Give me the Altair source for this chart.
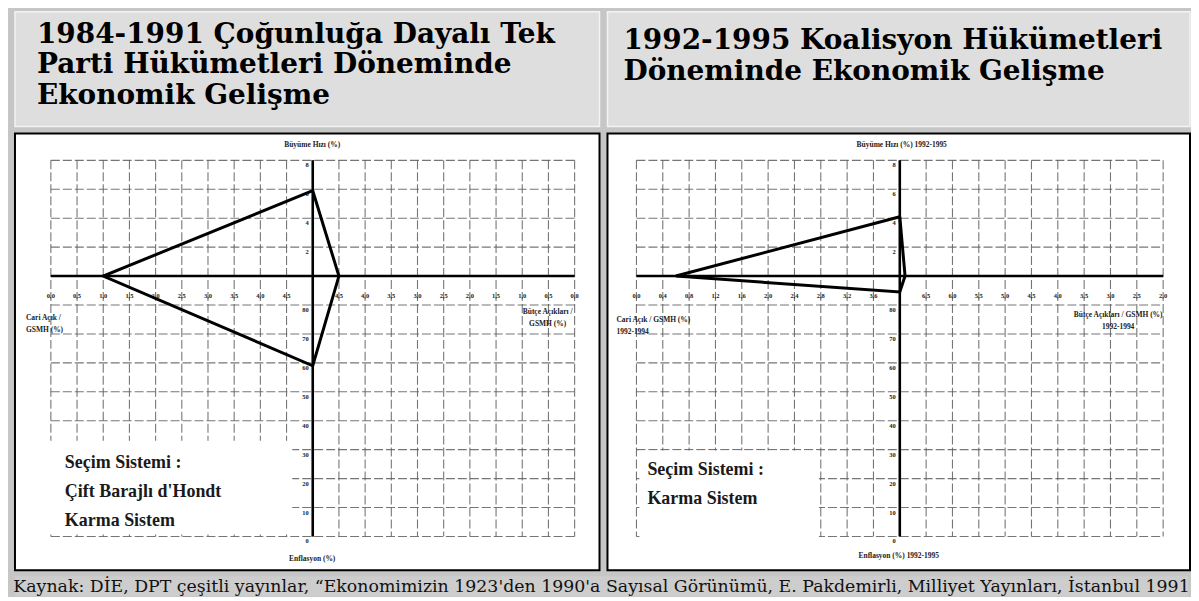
import altair as alt
import pandas as pd

SERIF = "DejaVu Serif"
TIMES = "Liberation Serif"

# ---------------- data ----------------
growth_ticks = [2, 4, 6, 8]                                   # Büyüme Hızı (%) – upward
inflation_ticks = [80, 70, 60, 50, 40, 30, 20, 10, 0]         # Enflasyon (%) – downward

ca_ticks_8491 = ["0,0", "0,5", "1,0", "1,5", "2,0", "2,5", "3,0", "3,5", "4,0", "4,5"]      # outer -> centre
budget_ticks_8491 = ["4,5", "4,0", "3,5", "3,0", "2,5", "2,0", "1,5", "1,0", "0,5", "0,0"]  # centre -> outer
ca_ticks_9295 = ["0,0", "0,4", "0,8", "1,2", "1,6", "2,0", "2,4", "2,8", "3,2", "3,6"]
budget_ticks_9295 = ["6,5", "6,0", "5,5", "5,0", "4,5", "4,0", "3,5", "3,0", "2,5", "2,0"]

# growth, budget deficit/GNP, inflation, current account deficit/GNP
values_8491 = [5.9, 4.5, 59.0, 1.0]
values_9295 = [4.1, 6.9, 84.5, 0.6]

title_8491 = ["1984-1991 Çoğunluğa Dayalı Tek", "Parti Hükümetleri Döneminde", "Ekonomik Gelişme"]
title_9295 = ["1992-1995 Koalisyon Hükümetleri", "Döneminde Ekonomik Gelişme"]
election_8491 = "Seçim Sistemi :\nÇift Barajlı d'Hondt\nKarma Sistem"
election_9295 = "Seçim Sistemi :\nKarma Sistem"
source = ("Kaynak: DİE, DPT çeşitli yayınlar, \u201cEkonomimizin 1923'den 1990'a Sayısal Görünümü, "
          "E. Pakdemirli, Milliyet Yayınları, İstanbul 1991")


def num(s):
    return float(s.replace(",", "."))


def polygon(vals, ca_ticks, budget_ticks):
    g_step = growth_ticks[1] - growth_ticks[0]
    i_step = inflation_ticks[0] - inflation_ticks[1]
    i_centre = inflation_ticks[0] + i_step
    b = [num(t) for t in budget_ticks]
    b_step = b[0] - b[1]
    b_centre = b[0] + b_step
    c = [num(t) for t in ca_ticks]
    c_step = c[1] - c[0]
    c_centre = c[-1] + c_step
    g, bu, inf, ca = vals
    xs = [0, (b_centre - bu) / b_step, 0, -(c_centre - ca) / c_step]
    ys = [g / g_step, 0, -(i_centre - inf) / i_step, 0]
    xs.append(xs[0])
    ys.append(ys[0])
    return pd.DataFrame({"x": xs, "y": ys, "o": range(len(xs))})


def panel(width, height, xdom, ydom, ca_ticks, budget_ticks, vals, top_t, bot_t, left_t, right_t,
          lab):
    n = len(ca_ticks)
    n_up = len(growth_ticks)
    n_dn = len(inflation_ticks)
    xs = alt.Scale(domain=xdom, nice=False, zero=False)
    ys = alt.Scale(domain=ydom, nice=False, zero=False)
    X = lambda f: alt.X(f, type="quantitative", scale=xs, axis=None)
    Y = lambda f: alt.Y(f, type="quantitative", scale=ys, axis=None)

    vg = pd.DataFrame({"x": list(range(-n, n + 1))})
    vg["y1"] = n_up
    vg["y2"] = -n_dn
    hg = pd.DataFrame({"y": list(range(-n_dn, n_up + 1))})
    hg["x1"] = -n
    hg["x2"] = n
    grid_style = dict(color="#5e5e5e", strokeWidth=1.1, strokeDash=[9, 3], opacity=0.85)
    vgrid = alt.Chart(vg).mark_rule(**grid_style).encode(x=X("x"), y=Y("y1"), y2="y2")
    hgrid = alt.Chart(hg).mark_rule(**grid_style).encode(y=Y("y"), x=X("x1"), x2="x2")

    box = alt.Chart(pd.DataFrame({"a": [0]})).mark_rect(color="white").encode(
        x=alt.value(lab["box"][0]), x2=alt.value(lab["box"][1]),
        y=alt.value(lab["box"][2]), y2=alt.value(lab["box"][3]))

    axh = alt.Chart(pd.DataFrame({"x1": [-n], "x2": [n], "y": [0]})).mark_rule(
        color="black", strokeWidth=2.6).encode(x=X("x1"), x2="x2", y=Y("y"))
    axv = alt.Chart(pd.DataFrame({"x": [0], "y1": [n_up], "y2": [-n_dn]})).mark_rule(
        color="black", strokeWidth=2.6).encode(x=X("x"), y=Y("y1"), y2="y2")

    hl = pd.DataFrame({"x": [-(n - i) for i in range(n)] + [i + 1 for i in range(n)],
                       "t": list(ca_ticks) + list(budget_ticks)})
    hl["y"] = 0
    vl = pd.DataFrame({"y": [i + 1 for i in range(n_up)] + [-(i + 1) for i in range(n_dn)],
                       "t": [str(v) for v in growth_ticks] + [str(v) for v in inflation_ticks]})
    vl["x"] = 0
    tick_style = dict(font=TIMES, fontSize=6.5, fontWeight="bold", color="#222")
    hlab = alt.Chart(hl).mark_text(dy=20, **tick_style).encode(x=X("x"), y=Y("y"), text="t:N")
    vlab = alt.Chart(vl).mark_text(align="right", dx=-4, dy=5, **tick_style).encode(
        x=X("x"), y=Y("y"), text="t:N")

    poly = alt.Chart(polygon(vals, ca_ticks, budget_ticks)).mark_line(
        color="black", strokeWidth=3, strokeJoin="miter").encode(x=X("x"), y=Y("y"), order="o:O")

    t_style = dict(font=TIMES, fontSize=7.5, fontWeight="bold", color="#222", lineBreak="\n",
                   lineHeight=12, baseline="top")
    def txt(t, x, y, align):
        return alt.Chart(pd.DataFrame({"t": [t]})).mark_text(align=align, **t_style).encode(
            x=alt.value(x), y=alt.value(y), text="t:N")

    titles = [txt(top_t, lab["top"][0], lab["top"][1], "center"),
              txt(bot_t, lab["bot"][0], lab["bot"][1], "center"),
              txt(left_t, lab["left"][0], lab["left"][1], "left"),
              txt(right_t, lab["right"][0], lab["right"][1], "center")]

    elect = alt.Chart(pd.DataFrame({"t": [lab["elect"]]})).mark_text(
        align="left", baseline="top", font=TIMES, fontSize=18, fontWeight="bold", color="#1a1a1a",
        lineBreak="\n", lineHeight=29.5).encode(
        x=alt.value(lab["epos"][0]), y=alt.value(lab["epos"][1]), text="t:N")

    return alt.layer(vgrid, hgrid, box, axh, axv, hlab, vlab, poly, *titles, elect).properties(
        width=width, height=height,
        view=alt.ViewBackground(fill="white", stroke="black", strokeWidth=2))


def title_box(lines, width, height, x, y0, step):
    df = pd.DataFrame({"t": lines, "row": list(range(len(lines)))})
    return alt.Chart(df).mark_text(
        align="left", baseline="middle", font=SERIF, fontSize=28, fontWeight="bold", color="#000"
    ).transform_calculate(py=f"{y0} + datum.row * {step}").encode(
        x=alt.value(x),
        y=alt.Y("py:Q", scale=alt.Scale(domain=[0, height], range=[0, height], nice=False, zero=False),
                axis=None),
        text="t:N").properties(
        width=width, height=height,
        view=alt.ViewBackground(fill="#dedede", stroke="#f3f3f3", strokeWidth=1.5))


W_L, W_R, H = 586, 584, 438
YDOM = [-10.17, 4.93]

left = panel(W_L, H, [-11.37, 10.95], YDOM, ca_ticks_8491, budget_ticks_8491, values_8491,
             "Büyüme Hızı (%)", "Enflasyon (%)", "Cari Açık /\nGSMH (%)", "Bütçe Açıkları /\nGSMH (%)",
             dict(top=(298, 8), bot=(298, 423), left=(11, 181), right=(534, 175),
                  box=(34, 278, 308, 402), elect=election_8491, epos=(50, 321)))
right = panel(W_R, H, [-11.10, 11.02], YDOM, ca_ticks_9295, budget_ticks_9295, values_9295,
              "Büyüme Hızı (%) 1992-1995", "Enflasyon (%) 1992-1995",
              "Cari Açık / GSMH (%)\n1992-1994", "Bütçe Açıkları / GSMH (%)\n1992-1994",
              dict(top=(295, 8), bot=(292, 420), left=(9, 183), right=(512, 178),
                   box=(32, 212, 318, 408), elect=election_9295, epos=(40, 328)))

tl = title_box(title_8491, W_L, 115, 22, 23, 30.5)
tr = title_box(title_9295, W_R, 115, 16, 29, 31)

footer = alt.Chart(pd.DataFrame({"t": [source]})).mark_text(
    align="center", baseline="middle", font=SERIF, fontSize=17.4, color="#111").encode(
    x=alt.value((W_L + W_R + 6) / 2), y=alt.value(11), text="t:N").properties(
    width=W_L + W_R + 6, height=20, view=alt.ViewBackground(fill="#cdcdcd", stroke=None))

chart = alt.vconcat(
    alt.hconcat(tl, tr, spacing=6),
    alt.hconcat(left, right, spacing=6),
    footer,
    spacing=5,
).properties(padding={"left": 5, "top": 2, "right": 0, "bottom": 0}).configure(
    background="#c6c6c6")

chart.save("out.html", embed_options={"renderer": "svg", "actions": False})
